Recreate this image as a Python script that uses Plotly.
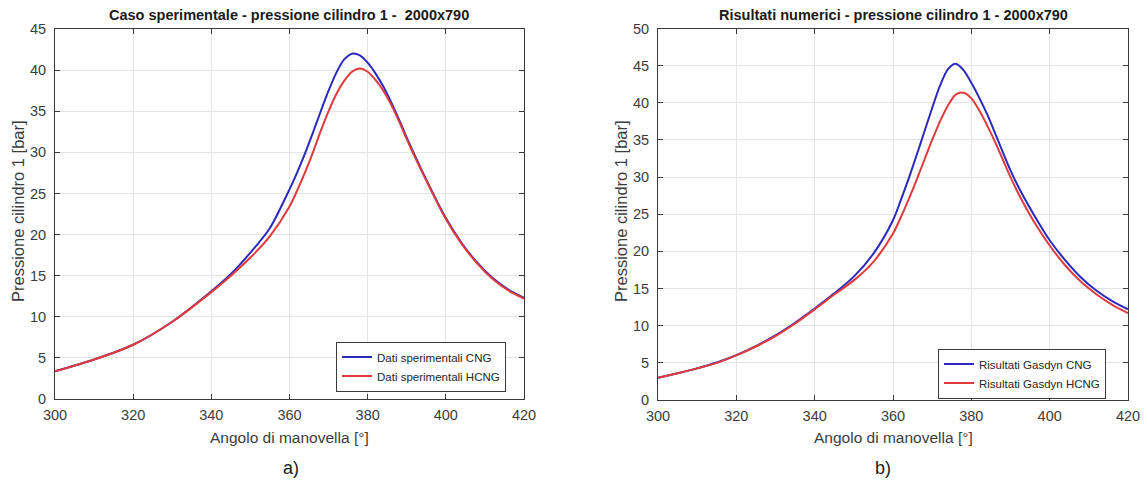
import plotly.graph_objects as go

# ---- data ----
left_cng_x = [300, 310, 320, 330, 340, 345, 350, 355, 360, 362, 364, 366, 368, 370, 372, 374, 376, 378, 380, 382, 384, 386, 388, 390, 392, 396, 400, 404, 408, 412, 416, 420]
left_cng_y = [3.36, 4.8, 6.6, 9.4, 13.1, 15.2, 17.8, 20.8, 25.5, 27.6, 29.9, 32.4, 35.0, 37.5, 39.7, 41.3, 42.0, 41.8, 40.9, 39.6, 38.0, 36.1, 34.0, 31.8, 29.7, 25.7, 22.0, 19.0, 16.6, 14.7, 13.3, 12.3]
left_hcng_x = [300, 310, 320, 330, 340, 345, 350, 355, 360, 362, 364, 366, 368, 370, 372, 374, 376, 378, 380, 382, 384, 386, 388, 390, 392, 396, 400, 404, 408, 412, 416, 420]
left_hcng_y = [3.36, 4.8, 6.6, 9.4, 13.0, 15.0, 17.2, 19.8, 23.4, 25.4, 27.6, 30.0, 32.6, 35.0, 37.1, 38.7, 39.8, 40.2, 39.8, 38.8, 37.5, 35.8, 33.8, 31.6, 29.5, 25.6, 21.9, 18.9, 16.5, 14.6, 13.2, 12.2]

right_cng_x = [300, 305, 310, 315, 320, 325, 330, 335, 340, 345, 350, 355, 360, 362, 364, 366, 368, 370, 372, 374, 376, 378, 380, 382, 384, 386, 388, 390, 392, 396, 400, 404, 408, 412, 416, 420]
right_cng_y = [3.0, 3.6, 4.26, 5.05, 6.05, 7.25, 8.7, 10.4, 12.3, 14.35, 16.6, 19.7, 24.2, 26.9, 29.8, 32.9, 36.1, 39.3, 42.3, 44.5, 45.25, 44.4, 42.7, 40.7, 38.5, 36.0, 33.4, 30.9, 28.7, 24.9, 21.5, 18.8, 16.5, 14.7, 13.3, 12.2]
right_hcng_x = [300, 305, 310, 315, 320, 325, 330, 335, 340, 345, 350, 355, 360, 362, 364, 366, 368, 370, 372, 374, 376, 378, 380, 382, 384, 386, 388, 390, 392, 396, 400, 404, 408, 412, 416, 420]
right_hcng_y = [3.0, 3.6, 4.26, 5.0, 6.0, 7.2, 8.6, 10.3, 12.2, 14.2, 16.1, 18.6, 22.4, 24.6, 27.0, 29.6, 32.3, 35.0, 37.5, 39.6, 41.1, 41.35, 40.6, 39.0, 37.0, 34.8, 32.4, 30.0, 27.8, 24.0, 20.8, 18.1, 15.9, 14.2, 12.8, 11.7]

x_ticks = [300, 320, 340, 360, 380, 400, 420]
left_y_ticks = [0, 5, 10, 15, 20, 25, 30, 35, 40, 45]
right_y_ticks = [0, 5, 10, 15, 20, 25, 30, 35, 40, 45, 50]

names = ["Dati sperimentali CNG", "Dati sperimentali HCNG", "Risultati Gasdyn CNG", "Risultati Gasdyn HCNG"]
title_left = "Caso sperimentale - pressione cilindro 1 -  2000x790"
title_right = "Risultati numerici - pressione cilindro 1 - 2000x790"
xlabel = "Angolo di manovella [°]"
ylabel = "Pressione cilindro 1 [bar]"

BLUE = "#2a2abf"
RED = "#e03a3c"
FONT = "Liberation Sans, Arial, sans-serif"
W, H = 1146, 485

fig = go.Figure()
fig.add_trace(go.Scatter(x=left_cng_x, y=left_cng_y, mode="lines", name=names[0],
                         line=dict(color=BLUE, width=2, shape="spline", smoothing=0.8),
                         xaxis="x", yaxis="y", legend="legend"))
fig.add_trace(go.Scatter(x=left_hcng_x, y=left_hcng_y, mode="lines", name=names[1],
                         line=dict(color=RED, width=2, shape="spline", smoothing=0.8),
                         xaxis="x", yaxis="y", legend="legend"))
fig.add_trace(go.Scatter(x=right_cng_x, y=right_cng_y, mode="lines", name=names[2],
                         line=dict(color=BLUE, width=2, shape="spline", smoothing=0.8),
                         xaxis="x2", yaxis="y2", legend="legend2"))
fig.add_trace(go.Scatter(x=right_hcng_x, y=right_hcng_y, mode="lines", name=names[3],
                         line=dict(color=RED, width=2, shape="spline", smoothing=0.8),
                         xaxis="x2", yaxis="y2", legend="legend2"))

def px_x(p):
    return p / W

def px_y(p):
    return 1 - p / H

axis_common = dict(showgrid=True, gridcolor="#e4e4e4", gridwidth=1,
                   showline=True, linecolor="#3a3a3a", linewidth=1, mirror="ticks",
                   ticks="inside", ticklen=5, tickcolor="#3a3a3a",
                   tickfont=dict(family=FONT, size=14.5, color="#3c3c3c"),
                   zeroline=False, fixedrange=True, automargin=False)

fig.update_layout(
    width=W, height=H,
    margin=dict(l=0, r=0, t=0, b=0, autoexpand=False),
    paper_bgcolor="white", plot_bgcolor="white",
    font=dict(family=FONT, color="#262626"),
    xaxis=dict(domain=[px_x(55), px_x(524)], range=[300, 420], tickvals=x_ticks, anchor="y",
               ticklabelstandoff=3, **axis_common),
    yaxis=dict(domain=[px_y(399), px_y(29)], range=[0, 45], tickvals=left_y_ticks, anchor="x",
               ticklabelstandoff=5, **axis_common),
    xaxis2=dict(domain=[px_x(658), px_x(1128)], range=[300, 420], tickvals=x_ticks, anchor="y2",
                ticklabelstandoff=3, **axis_common),
    yaxis2=dict(domain=[px_y(400), px_y(28.5)], range=[0, 50], tickvals=right_y_ticks, anchor="x2",
                ticklabelstandoff=5, **axis_common),
    legend=dict(x=px_x(506), y=px_y(366.5), xanchor="right", yanchor="middle",
                bgcolor="white", bordercolor="#3a3a3a", borderwidth=1,
                font=dict(family=FONT, size=11.5, color="#262626"), tracegroupgap=0),
    legend2=dict(x=px_x(1106), y=px_y(373.5), xanchor="right", yanchor="middle",
                 bgcolor="white", bordercolor="#3a3a3a", borderwidth=1,
                 font=dict(family=FONT, size=11.5, color="#262626"), tracegroupgap=0),
    showlegend=True,
)

ann = []
ann.append(dict(text="<b>%s</b>" % title_left, x=px_x(289.5), y=px_y(15), xref="paper", yref="paper",
                showarrow=False, font=dict(family=FONT, size=14.5, color="#1a1a1a"), xanchor="center", yanchor="middle"))
ann.append(dict(text="<b>%s</b>" % title_right, x=px_x(893), y=px_y(15), xref="paper", yref="paper",
                showarrow=False, font=dict(family=FONT, size=14.5, color="#1a1a1a"), xanchor="center", yanchor="middle"))
for cx in (289.5, 893):
    ann.append(dict(text=xlabel, x=px_x(cx), y=px_y(437), xref="paper", yref="paper",
                    showarrow=False, font=dict(family=FONT, size=15.5, color="#3c3c3c"), xanchor="center", yanchor="middle"))
for cx, cy in ((18, 211), (621, 211)):
    ann.append(dict(text=ylabel, x=px_x(cx), y=px_y(cy), xref="paper", yref="paper", textangle=-90,
                    showarrow=False, font=dict(family=FONT, size=16.5, color="#3c3c3c"), xanchor="center", yanchor="middle"))
ann.append(dict(text="a)", x=px_x(291), y=px_y(468), xref="paper", yref="paper",
                showarrow=False, font=dict(family=FONT, size=18, color="#1a1a1a"), xanchor="center", yanchor="middle"))
ann.append(dict(text="b)", x=px_x(883), y=px_y(468), xref="paper", yref="paper",
                showarrow=False, font=dict(family=FONT, size=18, color="#1a1a1a"), xanchor="center", yanchor="middle"))
fig.update_layout(annotations=ann)

fig.write_html("out.html", config={"displayModeBar": False},
               post_script="document.body.style.margin='0';document.body.style.overflow='hidden';")
